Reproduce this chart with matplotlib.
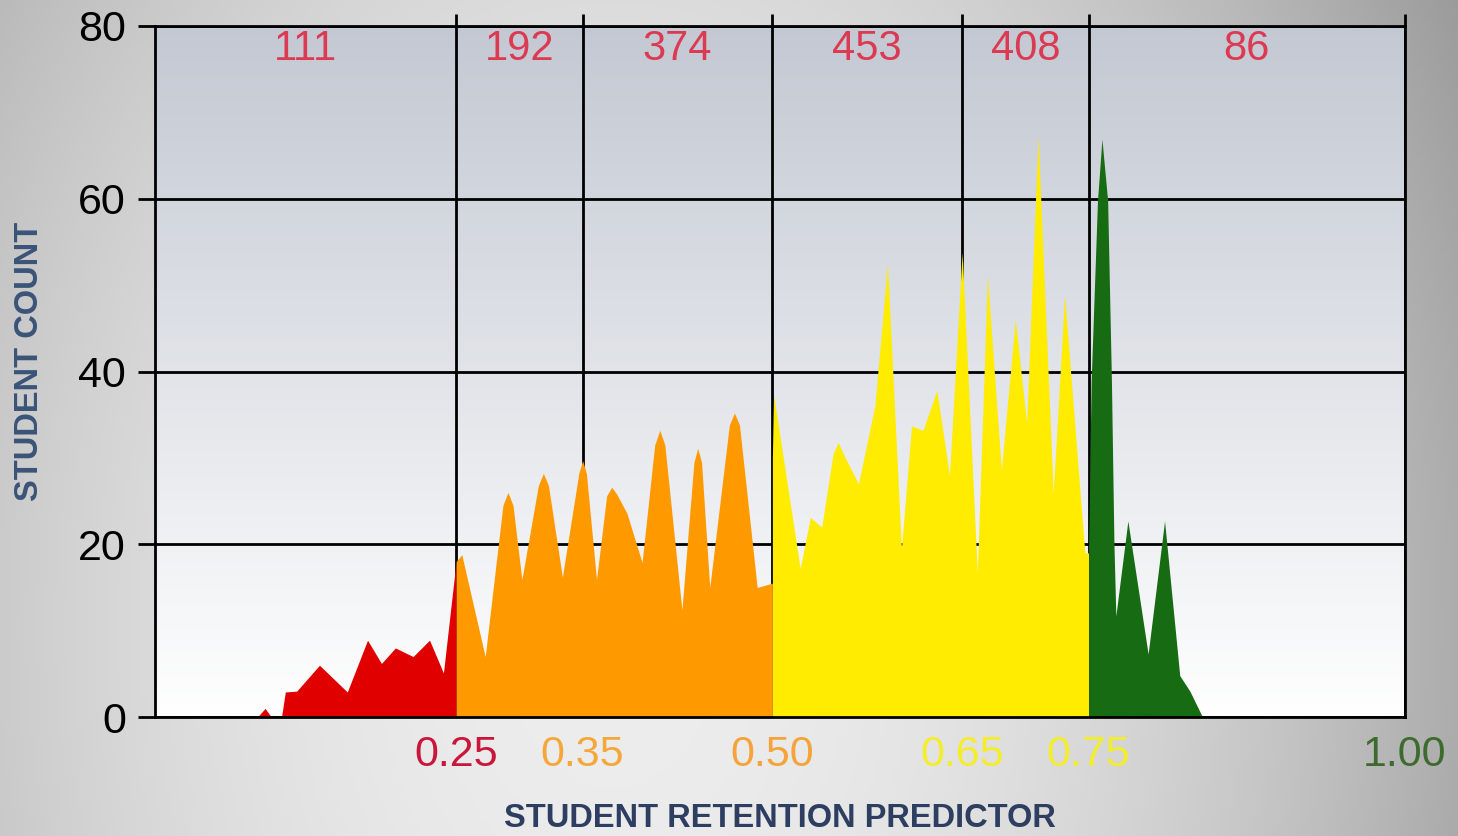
import numpy as np
import matplotlib

matplotlib.use("Agg")
import matplotlib.pyplot as plt

# Band edges and the student count printed above each band
band_edges = [0.012, 0.25, 0.35, 0.50, 0.65, 0.75, 1.00]
band_counts = [111, 192, 374, 453, 408, 86]

# Tick labels along the x axis and their colours
x_ticks = [0.25, 0.35, 0.50, 0.65, 0.75, 1.00]
x_tick_labels = ["0.25", "0.35", "0.50", "0.65", "0.75", "1.00"]
x_tick_colors = ["#c8173a", "#f5a83a", "#f5a33a", "#f4ee2a", "#f4ee2a", "#3d6b2e"]

# Distribution outline, one piece per colour zone
red_x = [0.093, 0.099, 0.104, 0.112, 0.115, 0.124, 0.142, 0.164, 0.180, 0.191,
         0.202, 0.216, 0.229, 0.240, 0.250]
red_y = [0, 1.0, 0, 0, 2.9, 3.0, 6.0, 2.9, 8.9, 6.2,
         8.0, 7.0, 8.9, 5.1, 18.0]

orange_x = [0.250, 0.2545, 0.273, 0.287, 0.291, 0.295, 0.302, 0.315, 0.319, 0.323,
            0.334, 0.347, 0.350, 0.353, 0.361, 0.369, 0.373, 0.377, 0.385, 0.397,
            0.407, 0.411, 0.415, 0.4285, 0.438, 0.441, 0.444, 0.4505, 0.466, 0.470,
            0.474, 0.488, 0.500]
orange_y = [18.0, 18.8, 7.0, 24.5, 26.0, 24.5, 15.9, 26.8, 28.2, 26.8,
            16.2, 28.2, 29.7, 28.2, 15.9, 25.6, 26.6, 25.8, 23.6, 17.9,
            31.5, 33.2, 31.5, 12.4, 29.5, 31.1, 29.5, 15.0, 33.8, 35.2,
            33.8, 15.0, 15.5]

yellow_x = [0.500, 0.501, 0.522, 0.530, 0.539, 0.548, 0.552, 0.556, 0.568, 0.581,
            0.591, 0.602, 0.610, 0.619, 0.630, 0.640, 0.650, 0.662, 0.670, 0.681,
            0.692, 0.701, 0.710, 0.722, 0.731, 0.747, 0.750]
yellow_y = [30.0, 37.3, 17.2, 23.1, 22.0, 30.5, 31.8, 30.5, 27.0, 36.0,
            52.5, 19.5, 33.7, 33.2, 37.8, 28.0, 53.8, 16.7, 51.1, 28.6,
            46.0, 34.0, 67.3, 25.9, 48.8, 19.0, 19.0]

green_x = [0.750, 0.752, 0.757, 0.7605, 0.765, 0.768, 0.770, 0.7715, 0.781, 0.797,
           0.810, 0.822, 0.830, 0.840]
green_y = [20.0, 39.0, 59.8, 66.9, 59.8, 39.0, 20.0, 11.7, 22.7, 7.3,
           22.7, 4.8, 3.0, 0]

zones = [
    (red_x, red_y, "#e00000"),
    (orange_x, orange_y, "#ff9900"),
    (yellow_x, yellow_y, "#ffec00"),
    (green_x, green_y, "#176b12"),
]

plt.rcParams["font.family"] = ["Liberation Sans", "DejaVu Sans"]

fig = plt.figure(figsize=(14.58, 8.36), dpi=100)

# Grey backdrop, light in the middle and darker towards the right edge
bg = fig.add_axes([0, 0, 1, 1], zorder=-1)
gx, gy = np.meshgrid(np.linspace(0, 1, 300), np.linspace(1, 0, 200))
shade = 0.93 - 0.75 * (gx - 0.42) ** 2 - 0.12 * (gy - 0.25) ** 2
bg.imshow(np.dstack([shade] * 3), extent=[0, 1, 0, 1], aspect="auto")
bg.axis("off")

ax = fig.add_axes([0.1063, 0.1423, 0.8573, 0.8266])
ax.set_facecolor("none")

# Plot area fades from blue-grey at the top to white at the bottom
top = np.array([0.765, 0.785, 0.825])
t = np.linspace(0, 1, 256)[:, None]
panel = top + (1 - top) * t
ax.imshow(panel[:, None, :], extent=[0, 1, 0, 1], transform=ax.transAxes,
          aspect="auto", zorder=0)

for xs, ys, color in zones:
    ax.fill_between(xs, ys, 0, color=color, linewidth=0, zorder=2)

for i, count in enumerate(band_counts):
    mid = (band_edges[i] + band_edges[i + 1]) / 2
    ax.text(mid, 77.3, str(count), ha="center", va="center",
            fontsize=30, color="#dc3a52", zorder=3)

ax.set_xlim(0.012, 1.0)
ax.set_ylim(0, 80)
ax.set_yticks([0, 20, 40, 60, 80])
ax.set_xticks(x_ticks)
ax.set_xticklabels(x_tick_labels)
for label, color in zip(ax.get_xticklabels(), x_tick_colors):
    label.set_color(color)

ax.set_axisbelow(True)
ax.grid(True, color="black", linewidth=2.0)
ax.tick_params(axis="x", bottom=False, top=True, length=9, width=2.0,
               direction="out", labelsize=31, pad=4)
ax.tick_params(axis="y", left=True, length=12, width=2.0,
               direction="out", labelsize=31, pad=9)
for spine in ax.spines.values():
    spine.set_color("black")
    spine.set_linewidth(2.0)

ax.set_xlabel("STUDENT RETENTION PREDICTOR", fontsize=23.5, fontweight="bold",
              color="#2d3e60")
ax.xaxis.set_label_coords(0.5, -0.125)
ax.set_ylabel("STUDENT COUNT", fontsize=23.5, fontweight="bold", color="#3a5478")
ax.yaxis.set_label_coords(-0.088, 0.514)

fig.savefig("out.png", dpi=100)
plt.close(fig)
